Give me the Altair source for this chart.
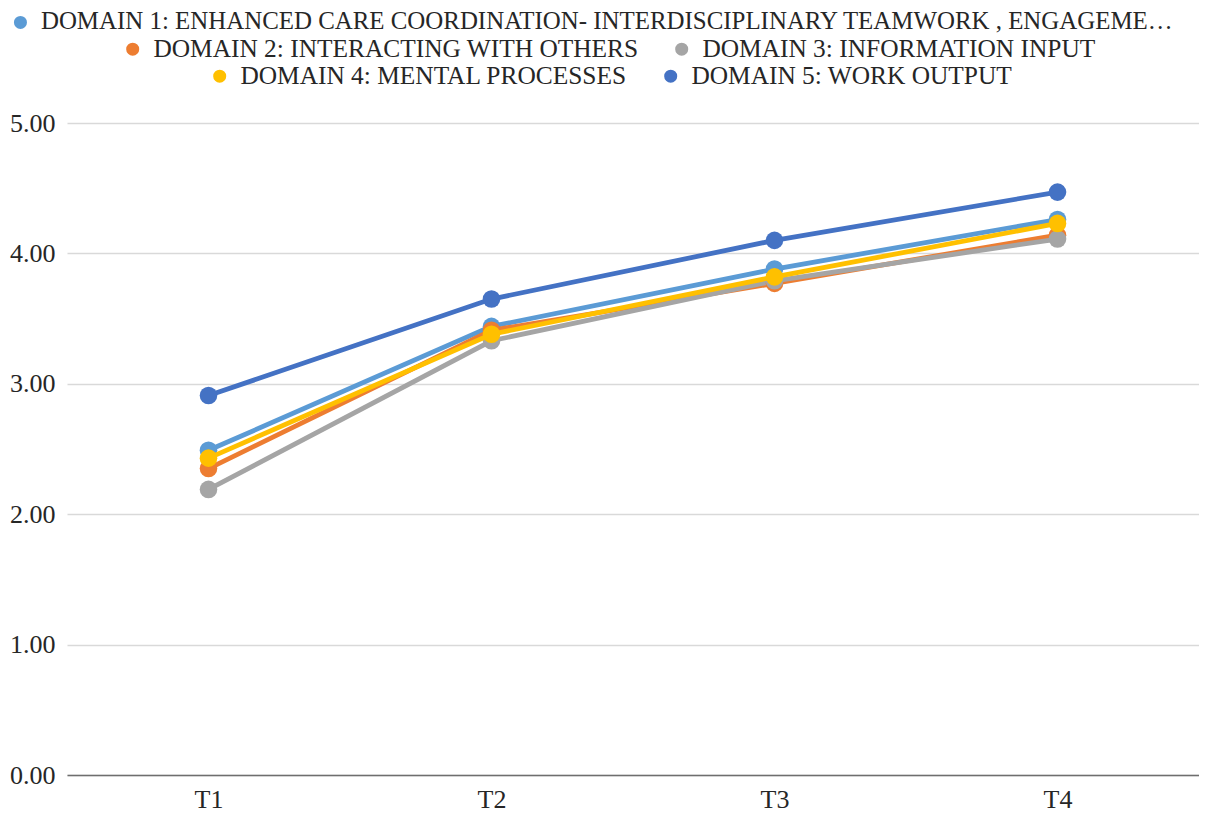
import altair as alt
import pandas as pd

times = ["T1", "T2", "T3", "T4"]
domains = [
    "DOMAIN 1: ENHANCED CARE COORDINATION- INTERDISCIPLINARY TEAMWORK , ENGAGEME\u2026",
    "DOMAIN 2: INTERACTING WITH OTHERS",
    "DOMAIN 3: INFORMATION INPUT",
    "DOMAIN 4: MENTAL PROCESSES",
    "DOMAIN 5: WORK OUTPUT",
]
d1 = [2.49, 3.44, 3.88, 4.26]
d2 = [2.35, 3.41, 3.77, 4.14]
d3 = [2.19, 3.33, 3.79, 4.11]
d4 = [2.43, 3.38, 3.82, 4.23]
d5 = [2.91, 3.65, 4.10, 4.47]
series = [d1, d2, d3, d4, d5]
colors = ["#5B9BD5", "#ED7D31", "#A5A5A5", "#FFC000", "#4472C4"]

rows = []
for i, (name, vals) in enumerate(zip(domains, series)):
    for t, v in zip(times, vals):
        rows.append({"domain": name, "order": i, "time": t, "value": v})
df = pd.DataFrame(rows)

# (series indices, legend x, legend y, label font size)
groups = [([0], -59, -113, 24.9), ([1, 2], 53, -87, 25.4), ([3, 4], 140, -60, 25.4)]

FONT = "Liberation Serif"

x_enc = alt.X("time:N", sort=times, title=None,
              scale=alt.Scale(paddingInner=0, paddingOuter=0),
              axis=alt.Axis(labelFont=FONT, labelFontSize=26, labelColor="#262626",
                            labelAngle=0, ticks=False, domainColor="#6e6e6e",
                            domainWidth=1.5, labelPadding=11, grid=False))
y_enc = alt.Y("value:Q", title=None,
              scale=alt.Scale(domain=[0, 5], nice=False),
              axis=alt.Axis(values=[0, 1, 2, 3, 4, 5], format=".2f", labelFont=FONT,
                            labelFontSize=26, labelColor="#262626", ticks=False,
                            domain=False, gridColor="#d9d9d9", gridWidth=1.3,
                            labelPadding=12))

layers = []
for idxs, lx, ly, fs in groups:
    names = [domains[i] for i in idxs]
    cols = [colors[i] for i in idxs]
    legend = alt.Legend(title=None, orient="none", legendX=lx, legendY=ly,
                        direction="horizontal", symbolType="circle", symbolSize=170,
                        symbolStrokeWidth=0, labelFont=FONT, labelFontSize=fs,
                        labelColor="#262626", labelLimit=1400, padding=0,
                        labelOffset=8, columnPadding=30)
    color = alt.Color("domain:N", scale=alt.Scale(domain=names, range=cols), legend=legend)
    base = alt.Chart(df).transform_filter(
        alt.FieldOneOfPredicate(field="domain", oneOf=names))
    line = base.mark_line(strokeWidth=4.8).encode(x=x_enc, y=y_enc, color=color,
                                                  order="order:Q")
    pts = base.mark_point(filled=True, size=310, opacity=1).encode(
        x=x_enc, y=y_enc, color=color, order="order:Q")
    layers.append(alt.layer(line, pts))

chart = alt.layer(*layers).resolve_scale(color="independent").properties(
    width=1132, height=652,
    padding={"top": 2, "left": 0, "right": 0, "bottom": 0},
    background="white"
).configure_view(stroke=None).configure_legend(
    labelFont=FONT, labelColor="#262626", labelLimit=1400
)

chart.save("out.html", embed_options={"renderer": "svg", "actions": False})
